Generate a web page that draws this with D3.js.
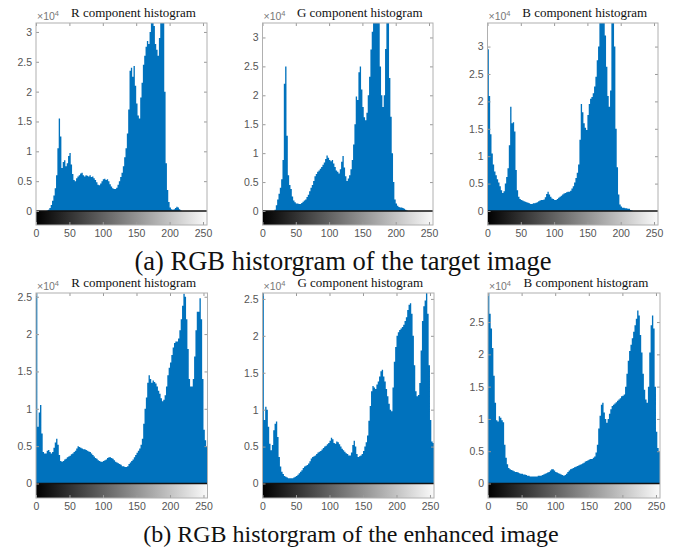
<!DOCTYPE html>
<html>
<head>
<meta charset="utf-8">
<script src="https://cdnjs.cloudflare.com/ajax/libs/d3/7.8.5/d3.min.js"></script>
<style>
	html, body { margin: 0; padding: 0; background: #fff; }
	svg { display: block; }
	.tick text { font-family: "Liberation Sans", Arial, sans-serif; font-size: 10.5px; fill: #555; }
	.tick line { stroke: #999; }
</style>
</head>
<body>
<div id="chart"></div>
<script>
	// gray levels, one bin every 2 levels
	var grayLevels = d3.range(0, 256, 2);
	var xTicks = [0, 50, 100, 150, 200, 250];
	var yTicksTarget = [0, 0.5, 1, 1.5, 2, 2.5, 3];
	var yTicksEnhanced = [0, 0.5, 1, 1.5, 2, 2.5];
	var titles = ["R component histogram", "G component histogram", "B component histogram"];
	var captions = ["(a) RGB historgram of the target image", "(b) RGB historgram of the enhanced image"];

	// pixel counts (x10^4)
	var targetR = [
		0,0,0,0,0,0,0,0,0.01,0.02,0.05,0.1,0.17,0.26,0.38,0.6,
		1.05,1.55,1.25,0.72,0.82,0.85,0.75,0.8,0.92,0.97,0.78,0.62,0.52,0.5,0.55,0.58,
		0.6,0.63,0.64,0.6,0.58,0.6,0.59,0.58,0.6,0.57,0.58,0.55,0.52,0.48,0.44,0.43,
		0.46,0.5,0.53,0.54,0.52,0.53,0.5,0.45,0.41,0.38,0.37,0.37,0.39,0.44,0.5,0.57,
		0.64,0.75,0.9,1.05,1.3,1.7,2.35,2.4,2.25,2.43,2.1,1.8,1.6,1.55,1.9,2.15,
		2.45,2.6,2.75,2.85,2.8,3.0,3.4,3.4,3.1,2.8,2.7,2.6,2.9,3.4,3.4,3.4,
		2.0,0.8,0.35,0.15,0.06,0.03,0.02,0.03,0.05,0.07,0.06,0.03,0.01,0,0,0,
		0,0,0,0,0,0,0,0,0,0,0,0,0,0,0,0
	];
	var targetG = [
		0,0,0,0,0,0,0,0,0,0.02,0.1,0.2,0.3,0.4,0.55,0.88,
		2.2,2.5,1.3,0.62,0.45,0.38,0.25,0.18,0.15,0.13,0.13,0.12,0.12,0.14,0.16,0.18,
		0.2,0.24,0.28,0.34,0.4,0.45,0.52,0.6,0.64,0.68,0.7,0.73,0.76,0.8,0.84,0.9,
		0.96,0.92,0.88,0.86,0.88,0.82,0.76,0.7,0.68,0.65,0.72,0.85,0.95,0.75,0.6,0.52,
		0.56,0.62,0.72,0.88,1.15,1.5,1.98,1.92,2.4,2.5,2.1,1.8,1.62,1.57,1.7,2.0,
		2.32,2.79,3.1,3.5,3.5,3.5,3.5,3.3,2.5,2.0,1.8,2.0,2.8,3.5,3.5,2.3,
		1.63,1.0,0.5,0.2,0.13,0.09,0.07,0.06,0.06,0.05,0.04,0.02,0.01,0,0,0,
		0,0,0,0,0,0,0,0,0,0,0,0,0,0,0,0
	];
	var targetB = [
		2.95,2.1,1.4,1.05,0.85,0.72,0.65,0.58,0.52,0.45,0.38,0.33,0.36,0.5,0.62,0.78,
		1.2,1.9,1.6,1.62,1.45,0.75,0.38,0.26,0.22,0.2,0.19,0.18,0.17,0.16,0.15,0.14,
		0.13,0.13,0.14,0.14,0.15,0.16,0.18,0.19,0.2,0.2,0.21,0.25,0.31,0.35,0.3,0.26,
		0.23,0.22,0.2,0.2,0.22,0.24,0.26,0.28,0.3,0.32,0.33,0.34,0.35,0.35,0.37,0.41,
		0.45,0.52,0.6,0.7,0.85,1.3,1.95,1.8,1.6,1.52,1.48,1.75,1.95,2.05,2.08,2.15,
		2.27,2.45,2.75,3.0,3.6,3.6,3.6,3.6,3.2,2.63,2.1,1.9,2.2,3.6,3.6,3.0,
		1.5,0.8,0.3,0.12,0.08,0.06,0.06,0.05,0.05,0.04,0.04,0.02,0.01,0,0,0,
		0,0,0,0,0,0,0,0,0,0,0,0,0,0,0,0
	];
	var enhancedR = [
		3.0,0.76,0.95,1.05,0.67,0.42,0.4,0.4,0.44,0.45,0.42,0.4,0.42,0.48,0.55,0.6,
		0.52,0.38,0.3,0.29,0.3,0.32,0.33,0.35,0.36,0.37,0.39,0.4,0.42,0.44,0.47,0.5,
		0.49,0.48,0.47,0.46,0.46,0.45,0.44,0.43,0.42,0.4,0.38,0.36,0.34,0.33,0.31,0.3,
		0.29,0.29,0.3,0.31,0.32,0.34,0.35,0.35,0.34,0.33,0.31,0.29,0.28,0.27,0.26,0.25,
		0.23,0.23,0.22,0.22,0.23,0.26,0.28,0.3,0.32,0.35,0.38,0.41,0.44,0.47,0.52,0.6,
		0.8,1.0,1.15,1.35,1.45,1.4,1.35,1.38,1.36,1.34,1.3,1.24,1.2,1.14,1.1,1.12,
		1.18,1.3,1.45,1.55,1.62,1.72,1.82,1.88,1.9,1.9,1.94,2.05,2.2,2.38,2.54,2.5,
		2.2,1.8,1.4,1.3,1.3,1.4,1.7,2.05,2.3,2.3,2.48,2.2,1.4,0.72,0.58,0.5
	];
	var enhancedG = [
		3.0,0.86,1.04,1.0,0.77,0.54,0.45,0.52,0.72,0.81,0.84,0.63,0.36,0.23,0.16,0.13,
		0.1,0.09,0.08,0.07,0.07,0.07,0.07,0.08,0.09,0.1,0.12,0.14,0.16,0.18,0.21,0.23,
		0.24,0.25,0.27,0.3,0.34,0.36,0.37,0.38,0.4,0.42,0.43,0.44,0.46,0.48,0.5,0.51,
		0.53,0.55,0.58,0.62,0.6,0.55,0.54,0.57,0.56,0.53,0.5,0.47,0.45,0.43,0.41,0.4,
		0.38,0.38,0.42,0.52,0.58,0.5,0.4,0.36,0.37,0.38,0.4,0.44,0.5,0.56,0.65,0.85,
		1.05,1.25,1.32,1.3,1.28,1.34,1.38,1.45,1.52,1.54,1.45,1.38,1.28,1.18,1.08,1.0,
		0.98,1.3,1.65,1.85,2.0,2.05,2.08,2.1,2.12,2.15,2.2,2.25,2.35,2.42,2.44,2.3,
		2.0,1.6,1.25,1.18,1.2,1.36,1.8,2.2,2.4,2.48,2.6,2.3,1.6,0.86,0.57,0.55
	];
	var enhancedB = [
		3.2,2.63,2.4,2.1,1.67,1.25,0.98,0.96,1.04,1.02,0.98,0.95,0.6,0.4,0.3,0.24,
		0.22,0.21,0.2,0.19,0.18,0.18,0.17,0.16,0.15,0.15,0.14,0.14,0.13,0.12,0.12,0.11,
		0.11,0.11,0.11,0.11,0.11,0.12,0.12,0.12,0.13,0.14,0.15,0.16,0.17,0.18,0.2,0.22,
		0.22,0.2,0.18,0.17,0.16,0.15,0.14,0.13,0.12,0.13,0.15,0.18,0.2,0.22,0.23,0.24,
		0.25,0.26,0.27,0.28,0.29,0.3,0.31,0.32,0.34,0.35,0.36,0.37,0.38,0.38,0.4,0.42,
		0.48,0.6,0.85,1.05,1.22,1.25,1.1,1.0,0.94,1.0,1.08,1.15,1.2,1.22,1.24,1.26,
		1.28,1.3,1.32,1.35,1.36,1.38,1.5,1.7,1.9,2.05,2.15,2.25,2.35,2.45,2.55,2.68,
		2.6,2.3,2.03,1.7,1.45,1.3,1.25,1.5,2.03,2.45,2.6,2.4,1.5,0.8,0.55,0.5
	];

	// box = [left, top, right, zero line, bottom of gray bar]
	var panels = [
		{values: targetR, title: titles[0], yTicks: yTicksTarget, yMax: 3.15, box: [36, 23, 207, 211, 225]},
		{values: targetG, title: titles[1], yTicks: yTicksTarget, yMax: 3.25, box: [262.5, 23, 433, 211, 225]},
		{values: targetB, title: titles[2], yTicks: yTicksTarget, yMax: 3.43, box: [487.5, 23, 658, 211, 225]},
		{values: enhancedR, title: titles[0], yTicks: yTicksEnhanced, yMax: 2.55, box: [36, 293, 207.5, 483.5, 498]},
		{values: enhancedG, title: titles[1], yTicks: yTicksEnhanced, yMax: 2.58, box: [262.5, 293, 434, 483.5, 498]},
		{values: enhancedB, title: titles[2], yTicks: yTicksEnhanced, yMax: 2.95, box: [488, 293, 660, 483.5, 498]}
	];

	// caption placement: [center x, baseline y, font size]
	var captionPos = [[343, 270, 26.5], [351, 542, 24]];

	var width = 675, height = 553;
	var svg = d3.select("#chart").append("svg").attr("width", width).attr("height", height);
	svg.append("rect").attr("width", width).attr("height", height).attr("fill", "#fff");

	var grad = svg.append("defs").append("linearGradient").attr("id", "grayBar");
	grad.append("stop").attr("offset", "0%").attr("stop-color", "#000");
	grad.append("stop").attr("offset", "100%").attr("stop-color", "#fafafa");

	panels.forEach(drawPanel);

	function drawPanel(p){
		var left = p.box[0], top = p.box[1], right = p.box[2], zero = p.box[3], bottom = p.box[4];
		var x = d3.scaleLinear().domain([0, 256]).range([left, right]);
		var y = d3.scaleLinear().domain([0, p.yMax]).range([zero, top]).clamp(true);
		var g = svg.append("g");

		var pts = grayLevels.map(function(l, k){ return [l, p.values[k]]; });
		pts.push([256, p.values[p.values.length - 1]]);

		var area = d3.area()
			.curve(d3.curveStepAfter)
			.x(function(d){ return x(d[0]); })
			.y0(zero)
			.y1(function(d){ return y(d[1]); });

		g.append("path").datum(pts).attr("d", area).attr("fill", "#0072bd");

		g.append("rect")
			.attr("x", left).attr("y", zero)
			.attr("width", right - left).attr("height", bottom - zero)
			.attr("fill", "url(#grayBar)");
		g.append("line")
			.attr("x1", left).attr("x2", right).attr("y1", zero).attr("y2", zero)
			.attr("stroke", "#111").attr("stroke-width", 1.3);

		g.append("g").attr("transform", "translate(" + left + ",0)")
			.call(d3.axisLeft(y).tickValues(p.yTicks).tickSizeInner(-3).tickSizeOuter(0).tickPadding(4).tickFormat(function(d){ return d; }))
			.call(function(a){ a.select(".domain").remove(); });
		g.append("g").attr("transform", "translate(" + right + ",0)")
			.call(d3.axisRight(y).tickValues(p.yTicks.slice(1)).tickSizeInner(-3).tickSizeOuter(0).tickFormat(""))
			.call(function(a){ a.select(".domain").remove(); });
		g.append("g").attr("transform", "translate(0," + bottom + ")")
			.call(d3.axisBottom(x).tickValues(xTicks).tickSizeInner(-3).tickSizeOuter(0).tickPadding(5))
			.call(function(a){ a.select(".domain").remove(); });
		g.append("g").attr("transform", "translate(0," + top + ")")
			.call(d3.axisTop(x).tickValues(xTicks).tickSizeInner(-3).tickSizeOuter(0).tickFormat(""))
			.call(function(a){ a.select(".domain").remove(); });

		g.append("rect")
			.attr("x", left).attr("y", top)
			.attr("width", right - left).attr("height", bottom - top)
			.attr("fill", "none").attr("stroke", "#b0b0b0").attr("stroke-width", 1);

		g.append("text")
			.attr("x", (left + right) / 2 + 12).attr("y", top - 6)
			.attr("text-anchor", "middle")
			.style("font-family", "'Liberation Serif', 'Times New Roman', serif")
			.style("font-size", "13px").attr("fill", "#111")
			.text(p.title);

		var exp = g.append("text")
			.attr("x", left + 1).attr("y", top - 3)
			.style("font-family", "'Liberation Sans', Arial, sans-serif")
			.style("font-size", "10.5px").attr("fill", "#777");
		exp.append("tspan").text("\u00d710");
		exp.append("tspan").attr("dy", -4.5).style("font-size", "7.5px").text("4");
	}

	svg.selectAll("text.caption")
		.data(captions)
		.enter().append("text")
		.attr("class", "caption")
		.attr("x", function(d, i){ return captionPos[i][0]; })
		.attr("y", function(d, i){ return captionPos[i][1]; })
		.attr("text-anchor", "middle")
		.style("font-family", "'Liberation Serif', 'Times New Roman', serif")
		.style("font-size", function(d, i){ return captionPos[i][2] + "px"; })
		.attr("fill", "#111")
		.text(function(d){ return d; });
</script>
</body>
</html>
